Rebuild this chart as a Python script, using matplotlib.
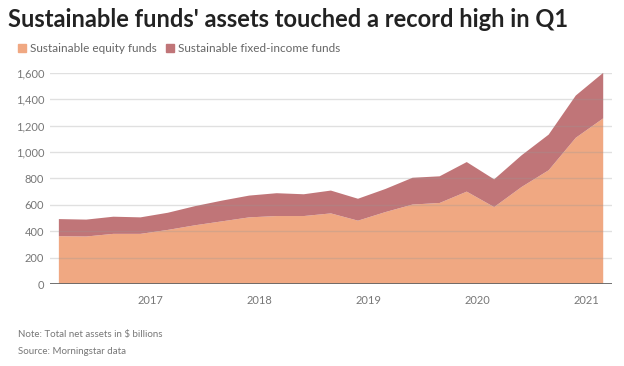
import matplotlib
matplotlib.use("Agg")
import matplotlib.pyplot as plt
import matplotlib.dates as mdates
import pandas as pd

# quarterly points (plotted slightly before each quarter start, as in the original)
dates = ["2016-02-27", "2016-05-29", "2016-08-28", "2016-11-27",
         "2017-02-27", "2017-05-29", "2017-08-28", "2017-11-27",
         "2018-02-27", "2018-05-29", "2018-08-28", "2018-11-27",
         "2019-02-27", "2019-05-29", "2019-08-28", "2019-11-27",
         "2020-02-27", "2020-05-29", "2020-08-28", "2020-11-27",
         "2021-02-27"]
equity = [362, 360, 380, 380, 410, 445, 475, 505, 515, 515, 535,
          480, 545, 602, 614, 700, 583, 735, 862, 1108, 1255]
total = [492, 488, 510, 505, 540, 590, 632, 670, 688, 680, 708,
         646, 720, 805, 816, 924, 793, 975, 1132, 1428, 1600]
fixed_income = [t - e for t, e in zip(total, equity)]

series_names = ["Sustainable equity funds", "Sustainable fixed-income funds"]
yticks = [0, 200, 400, 600, 800, 1000, 1200, 1400, 1600]
years = [2017, 2018, 2019, 2020, 2021]

c_eq = "#f0a882"
c_fi = "#c07578"
grey = "#777777"

plt.rcParams["font.family"] = ["Lato", "DejaVu Sans"]

x = pd.to_datetime(dates)
fig = plt.figure(figsize=(6.24, 3.66), dpi=100)
ax = fig.add_axes([0.080, 0.224, 0.901, 0.577])

ax.stackplot(x, equity, fixed_income, colors=[c_eq, c_fi], linewidth=0, zorder=1)

ax.set_ylim(0, 1600)
pad = pd.Timedelta(days=30)
ax.set_xlim(x[0] - pad, x[-1] + pad)
ax.set_yticks(yticks)
ax.set_yticklabels([f"{v:,}" for v in yticks])
ax.set_xticks(pd.to_datetime([f"{y}-01-01" for y in years]))
ax.xaxis.set_major_formatter(mdates.DateFormatter("%Y"))
ax.tick_params(axis="both", length=0, labelsize=8, colors=grey)
ax.tick_params(axis="x", pad=8)
ax.tick_params(axis="y", pad=4)

for v in yticks[1:]:
    ax.axhline(v, color="#999999", alpha=0.3, linewidth=1, zorder=2)
ax.axhline(0, color="#666666", linewidth=1.3, zorder=3)
for s in ax.spines.values():
    s.set_visible(False)

fig.text(0.013, 0.948, "Sustainable funds' assets touched a record high in Q1",
         fontsize=17, fontweight="bold", color="#222222", va="center")

# legend
fig.patches.append(plt.Rectangle((18 / 624, 1 - 52 / 366), 8 / 624, 8 / 366,
                                 transform=fig.transFigure, color=c_eq))
fig.text(30 / 624, 1 - 48 / 366, series_names[0], fontsize=8.5, color="#666666", va="center")
fig.patches.append(plt.Rectangle((166 / 624, 1 - 52 / 366), 8 / 624, 8 / 366,
                                 transform=fig.transFigure, color=c_fi))
fig.text(178 / 624, 1 - 48 / 366, series_names[1], fontsize=8.5, color="#666666", va="center")

fig.text(18 / 624, 1 - 334 / 366, "Note: Total net assets in $ billions", fontsize=7, color="#777777", va="center")
fig.text(18 / 624, 1 - 352 / 366, "Source: Morningstar data", fontsize=7, color="#777777", va="center")

fig.savefig("out.png", dpi=100)
